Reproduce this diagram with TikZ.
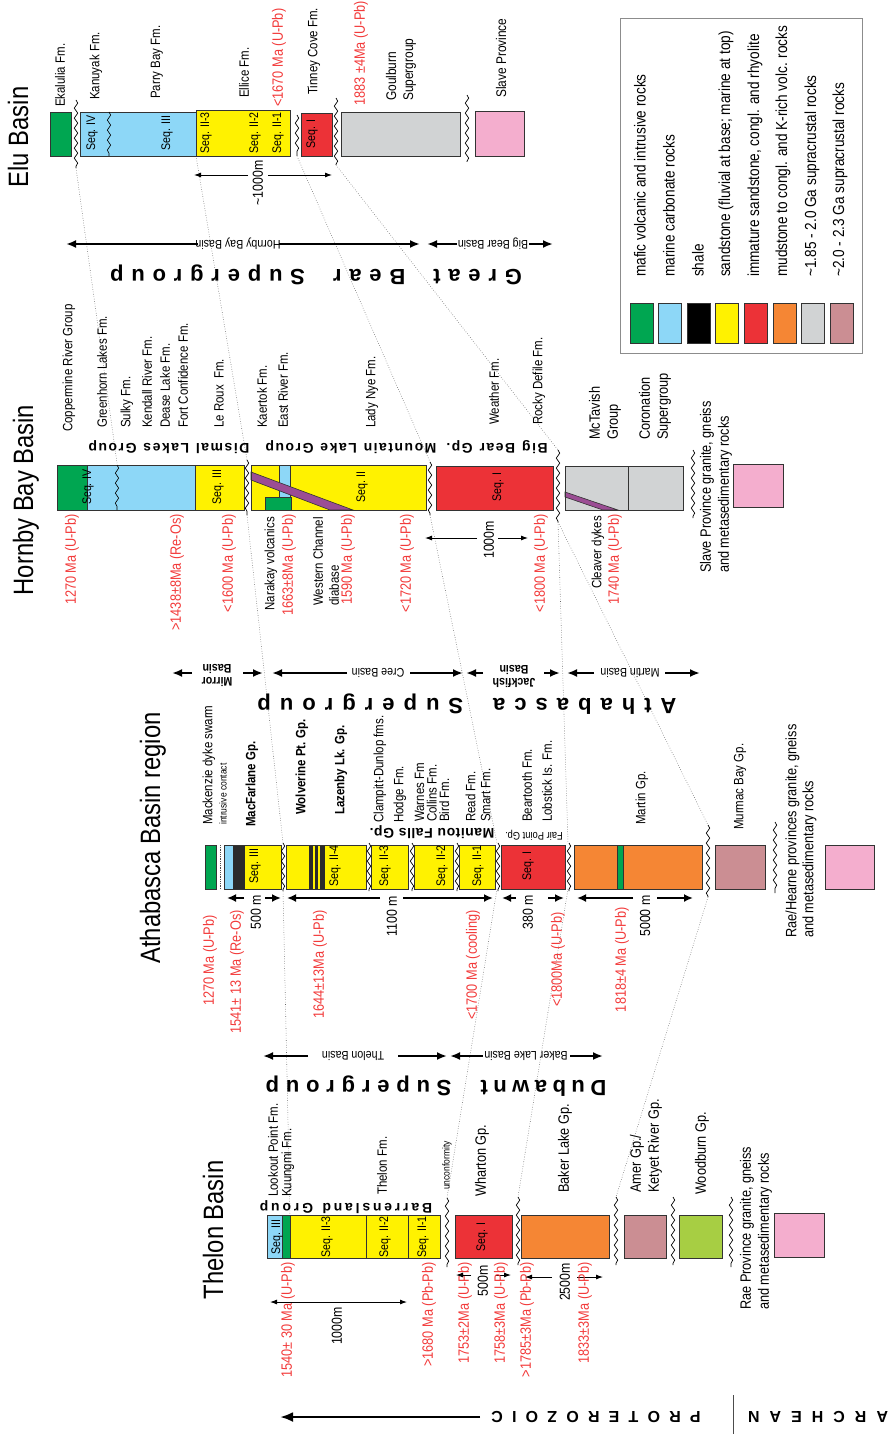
\documentclass[tikz,border=0pt]{standalone}
\usepackage{fontspec}
\setmainfont[FakeStretch=0.85]{Liberation Sans}
\newfontfamily\plainsans{Liberation Sans}
\usetikzlibrary{arrows.meta,decorations.pathmorphing}
\definecolor{cgreen}{HTML}{00A651}
\definecolor{cblue}{HTML}{8DD7F7}
\definecolor{cyel}{HTML}{FFF200}
\definecolor{cred}{HTML}{EC3237}
\definecolor{corange}{HTML}{F58634}
\definecolor{cgray}{HTML}{D1D3D4}
\definecolor{cmauve}{HTML}{CB8E93}
\definecolor{cpink}{HTML}{F4AECE}
\definecolor{clime}{HTML}{A7CE43}
\definecolor{cpurple}{HTML}{9B4D94}
\definecolor{cdark}{HTML}{2B2B2B}
\definecolor{cdate}{HTML}{F23A3A}
\newcommand\fLab{\fontsize{13.5}{16}\selectfont}
\newcommand\fDate{\fontsize{15}{16}\selectfont}
\newcommand\fTitle{\fontsize{28}{30}\selectfont}
\newcommand\fLeg{\fontsize{16}{18}\selectfont}
\newcommand\fSeq{\fontsize{12.5}{14}\selectfont}
\newcommand\fBasin{\fontsize{12.5}{13}\selectfont}
\newcommand\fBasinB{\bfseries\fontsize{12.5}{13}\selectfont}
\newcommand\fScale{\fontsize{14.5}{15}\selectfont}
\newcommand\fGrp{\plainsans\bfseries\fontsize{14}{15}\selectfont}
\newcommand\fSuper{\plainsans\bfseries\fontsize{22}{24}\selectfont}
\newcommand\fEon{\plainsans\bfseries\fontsize{16}{17}\selectfont}
\newcommand\fSmall{\fontsize{10}{11}\selectfont}
\makeatletter
\newcommand\lsp[2]{\@tfor\lsp@c:=#2\do{\lsp@c\hspace{#1}}\unskip}
\makeatother
\newcommand\conn[4]{\coordinate (#1s) at (#3);\coordinate (#1e) at (#4);\draw[#2] (#1s) -- (#1e);}
\begin{document}
\begin{tikzpicture}[x=1pt,y=-1pt,
  box/.style={draw=black!80,line width=0.8pt},
  wavy/.style={decorate,decoration={snake,segment length=10pt,amplitude=1.7pt},line width=0.7pt},
  dotl/.style={black!60,line width=0.55pt,dash pattern=on 0.6pt off 1.8pt},
  up/.style={rotate=90,anchor=west,inner sep=0pt,font=\fLab,align=left},
  upb/.style={up,font=\fLab\bfseries},
  dn/.style={rotate=90,anchor=east,inner sep=0pt,font=\fDate,text=cdate,align=left},
  dnk/.style={rotate=90,anchor=east,inner sep=0pt,font=\fLab,align=left},
  seq/.style={rotate=90,inner sep=0pt,font=\fSeq},
  ttl/.style={rotate=90,inner sep=0pt,font=\fTitle},
  scl/.style={rotate=90,inner sep=0pt,font=\fScale},
  basin/.style={rotate=180,inner sep=0pt,font=\fBasin,align=center},
  basinb/.style={basin,font=\fBasinB},
  grp/.style={rotate=180,inner sep=0pt,font=\fGrp},
  sup/.style={rotate=180,inner sep=0pt,font=\fSuper},
  leg/.style={up,font=\fLeg},
  barr/.style={line width=2.8pt,-{Latex[length=10pt,width=8pt]}},
  aarr/.style={line width=2.8pt,-{Latex[length=9pt,width=8pt]}},
  tarr/.style={line width=0.9pt,-{Latex[length=7pt,width=5pt]}},
]
\useasboundingbox (0,0) rectangle (892,1434);

% ---------------- dotted correlation lines ----------------
\conn{d1}{dotl}{76,168}{117,463}
\conn{d2}{dotl}{196,156}{247,460}
\conn{d3}{dotl}{297,156}{430,462}
\conn{d4}{dotl}{336,165}{558,450}
\conn{d5}{dotl}{247,515}{283,843}
\conn{d6}{dotl}{430,515}{497,843}
\conn{d7}{dotl}{558,522}{568,843}
\conn{d8}{dotl}{558,522}{708,825}
\conn{d9}{dotl}{283,889}{290,1215}
\conn{d10}{dotl}{497,889}{447,1198}
\conn{d11}{dotl}{568,889}{518,1197}
\conn{d12}{dotl}{708,897}{616,1197}

% ---------------- ELU BASIN ----------------
\node[ttl] (tElu) at (18,137) {Elu Basin};
\draw[box,fill=cgreen] (50,112) rectangle (71,156);
\draw[wavy] (76,100) -- (76,168);
\draw[box,fill=cblue] (80,112) rectangle (196,156);
\draw[wavy,line width=0.6pt] (109,112) -- (109,156);
\draw[box,fill=cyel] (196,110) rectangle (290,156);
\draw[wavy] (297,115) -- (297,156);
\draw[box,fill=cred] (301,113) rectangle (332,156);
\draw[wavy] (336,98) -- (336,165);
\draw[box,fill=cgray] (341,112) rectangle (460,156);
\draw[wavy] (467,95) -- (467,162);
\draw[box,fill=cpink] (475,111) rectangle (524,156);

\node[seq] (eS4) at (92,133) {Seq. IV};
\node[seq] (eS3) at (167,133) {Seq. III};
\node[seq] (eS23) at (206,133) {Seq. II-3};
\node[seq] (eS22) at (255,133) {Seq. II-2};
\node[seq] (eS21) at (278,133) {Seq. II-1};
\node[seq] (eS1) at (312,134) {Seq. I};

\node[up] (eEk) at (60,107) {Ekalulia Fm.};
\node[up] (eKa) at (96,100) {Kanuyak Fm.};
\node[up] (ePB) at (157,99) {Parry Bay Fm.};
\node[up] (eEl) at (244,98) {Ellice Fm.};
\node[up,font=\fDate,text=cdate] (eD1) at (279,107) {<1670 Ma (U-Pb)};
\node[up] (eTC) at (314,95) {Tinney Cove Fm.};
\node[up,font=\fDate,text=cdate] (eD2) at (361,106) {1883 ±4Ma (U-Pb)};
\node[up,font=\fontsize{14}{17}\selectfont] (eGo) at (401,101) {Goulburn\\Supergroup};
\node[up,font=\fontsize{14}{17}\selectfont] (eSP) at (501,98) {Slave Province};

\node[scl] (e1000) at (258,183) {\textasciitilde1000m};
\conn{ea1}{tarr}{248,175}{194,175}
\conn{ea2}{tarr}{268,175}{332,175}

\node[basin] (bHB) at (238,244) {Hornby Bay Basin};
\conn{hb1}{barr}{198,244}{66,244}
\conn{hb2}{barr}{279,244}{420,244}
\node[basin] (bBB) at (493,244) {Big Bear Basin};
\conn{bb1}{barr}{457,244}{427,244}
\conn{bb2}{barr}{529,244}{553,244}
\node[sup] (sGB) at (316,275) {\lsp{7.8pt}{Great}\hspace{28pt}\lsp{7.8pt}{Bear}\hspace{28pt}\lsp{7.8pt}{Supergroup}};

% ---------------- LEGEND ----------------
\draw[black!45,line width=0.9pt] (620,18) rectangle (862,353);
\foreach \c [count=\i from 0] in {cgreen,cblue,black,cyel,cred,corange,cgray,cmauve}
  \draw[box,fill=\c] ({630+\i*28.6},303) rectangle ++(23,40);
\node[leg] (lg1) at (640,277) {mafic volcanic and intrusive rocks};
\node[leg] (lg2) at (669,277) {marine carbonate rocks};
\node[leg] (lg3) at (698,277) {shale};
\node[leg] (lg4) at (726,277) {sandstone (fluvial at base; marine at top)};
\node[leg] (lg5) at (755,277) {immature sandstone, congl. and rhyolite};
\node[leg] (lg6) at (783,277) {mudstone to congl. and K-rich volc. rocks};
\node[leg] (lg7) at (812,277) {\textasciitilde1.85 - 2.0 Ga supracrustal rocks};
\node[leg] (lg8) at (840,277) {\textasciitilde2.0 - 2.3 Ga supracrustal rocks};

% ---------------- HORNBY BAY BASIN ----------------
\node[ttl] (tHB) at (26,500) {Hornby Bay Basin};
\draw[box,fill=cgreen] (57,465) rectangle (87,510);
\draw[box,fill=cblue] (87,465) rectangle (195,510);
\draw[wavy,line width=0.6pt] (117,465) -- (117,510);
\draw[box,fill=cyel] (195,465) rectangle (244,510);
\draw[wavy] (247,460) -- (247,515);
\fill[cyel] (251,465) rectangle (426,510);
\draw[box,fill=cblue] (279,465) rectangle (290,497);
\draw[box,fill=cgreen] (265,497) rectangle (291,510);
\draw[box,fill=cpurple,line width=0.6pt] (251,472) -- (353,510) -- (330,510) -- (251,480) -- cycle;
\draw[box] (251,465) rectangle (426,510);
\draw[wavy] (430,462) -- (430,515);
\draw[box,fill=cred] (436,466) rectangle (553,510);
\draw[wavy] (558,450) -- (558,522);
\fill[cgray] (565,466) rectangle (683,510);
\draw[box,fill=cpurple,line width=0.6pt] (565,492) -- (618,510) -- (603,510) -- (565,497) -- cycle;
\draw[box] (565,466) rectangle (683,510);
\draw[box] (628,466) -- (628,510);
\draw[wavy] (693,450) -- (693,518);
\draw[box,fill=cpink] (733,464) rectangle (783,507);

\node[seq] (hS4) at (88,487) {Seq. IV};
\node[seq] (hS3) at (218,487) {Seq. III};
\node[seq] (hS2) at (362,487) {Seq. II};
\node[seq] (hS1) at (498,487) {Seq. I};

\node[up] (hCR) at (69,432) {Coppermine River Group};
\node[up] (hGL) at (102,428) {Greenhorn Lakes Fm.};
\node[up] (hSu) at (127,428) {Sulky Fm.};
\node[up] (hKR) at (147,428) {Kendall River Fm.};
\node[up] (hDL) at (165,428) {Dease Lake Fm.};
\node[up] (hFC) at (183,428) {Fort Confidence Fm.};
\node[up] (hLR) at (219,428) {Le Roux\ \ Fm.};
\node[up] (hKa) at (262,428) {Kaertok Fm.};
\node[up] (hER) at (283,428) {East River Fm.};
\node[up] (hLN) at (372,428) {Lady Nye Fm.};
\node[up] (hWe) at (494,425) {Weather Fm.};
\node[up] (hRD) at (539,425) {Rocky Defile Fm.};
\node[up,font=\fontsize{15}{18}\selectfont] (hMT) at (605,440) {McTavish\\Group};
\node[up,font=\fontsize{15}{18}\selectfont] (hCo) at (655,440) {Coronation\\Supergroup};

\node[grp] (gDL) at (169,447) {\lsp{1.5pt}{Dismal~Lakes~Group}};
\node[grp] (gML) at (351,447) {\lsp{1.5pt}{Mountain~Lake~Group}};
\node[grp] (gBB) at (497,447) {\lsp{1.5pt}{Big~Bear~Gp.}};

\node[dn] (hD1) at (72,514) {1270 Ma (U-Pb)};
\node[dn] (hD2) at (177,514) {>1438±8Ma (Re-Os)};
\node[dn] (hD3) at (229,514) {<1600 Ma (U-Pb)};
\node[dnk] (hNV) at (271,517) {Narakay volcanics};
\node[dn] (hD4) at (289,514) {1663±8Ma (U-Pb)};
\node[dnk] (hWC) at (326,517) {Western Channel\\diabase};
\node[dn] (hD5) at (348,514) {1590 Ma (U-Pb)};
\node[dn] (hD6) at (407,514) {<1720 Ma (U-Pb)};
\node[scl] (h1000) at (489,540) {1000m};
\conn{ha1}{tarr}{477,538}{425,538}
\conn{ha2}{tarr}{498,538}{528,538}
\node[dn] (hD7) at (541,514) {<1800 Ma (U-Pb)};
\node[dnk] (hCD) at (598,516) {Cleaver dykes};
\node[dn] (hD8) at (615,514) {1740 Ma (U-Pb)};
\node[up,font=\fontsize{15}{18}\selectfont] (hSP) at (716,573) {Slave Province granite, gneiss\\and metasedimentary rocks};

% ---------------- ATHABASCA ----------------
\node[basinb] (bMi) at (217,675) {Mirror\\Basin};
\conn{mi1}{barr}{192,673}{172,673}
\conn{mi2}{barr}{243,673}{263,673}
\node[basin] (bCr) at (378,673) {Cree Basin};
\conn{cr1}{barr}{347,673}{272,673}
\conn{cr2}{barr}{410,673}{463,673}
\node[basinb] (bJa) at (514,676) {Jackfish\\Basin};
\conn{ja1}{barr}{483,673}{466,673}
\conn{ja2}{barr}{544,673}{560,673}
\node[basin] (bMa) at (630,673) {Martin Basin};
\conn{ma1}{barr}{594,673}{567,673}
\conn{ma2}{barr}{665,673}{700,673}
\node[sup] (sAt) at (467,704) {\lsp{9pt}{Athabasca}\hspace{30pt}\lsp{9pt}{Supergroup}};

\node[ttl] (tAt) at (153,838) {Athabasca Basin region};

\node[up] (aMD) at (209,825) {Mackenzie dyke swarm};
\node[up,font=\fSmall] (aIC) at (223,825) {intrusive contact};
\node[upb] (aMF) at (252,827) {MacFarlane Gp.};
\node[upb] (aWP) at (302,815) {Wolverine Pt. Gp.};
\node[upb] (aLL) at (341,815) {Lazenby Lk. Gp.};
\node[up] (aCD) at (380,823) {Clampitt-Dunlop fms.};
\node[up] (aHo) at (400,823) {Hodge Fm.};
\node[up,font=\fontsize{13.5}{12.5}\selectfont] (aWa) at (432,822) {Warnes Fm\\Collins Fm.\\Bird Fm.};
\node[up,font=\fontsize{13.5}{15}\selectfont] (aRe) at (478,822) {Read Fm.\\Smart Fm.};
\node[up] (aBe) at (527,822) {Beartooth Fm.};
\node[up] (aLo) at (547,822) {Lobstick Is. Fm.};
\node[up] (aMa) at (642,825) {Martin Gp.};
\node[up] (aMB) at (740,830) {Murmac Bay Gp.};
\node[up,font=\fontsize{15}{17}\selectfont] (aRH) at (801,938) {Rae/Hearne provinces granite, gneiss\\and metasedimentary rocks};

\node[grp] (gMF) at (432,832) {\lsp{0.5pt}{Manitou~Falls~Gp.}};
\node[rotate=180,inner sep=0pt,font=\fontsize{11}{12}\selectfont] (gFP) at (534,835) {Fair Point Gp.};

\draw[box,fill=cgreen] (205,845) rectangle (216,889);
\draw[black!70,line width=0.6pt,dash pattern=on 0.8pt off 1pt] (220,845) -- (220,889);
\fill[cblue] (224,845) rectangle (233,889);
\fill[cdark] (233,845) rectangle (245,889);
\fill[cyel] (245,845) rectangle (281,889);
\draw[box] (224,845) rectangle (281,889);
\draw[wavy] (283,843) -- (283,891);
\fill[cyel] (286,845) rectangle (366,889);
\fill[cdark] (309,845) rectangle (313,889);
\fill[cdark] (314.5,845) rectangle (318,889);
\fill[cdark] (320,845) rectangle (325,889);
\draw[box] (286,845) rectangle (366,889);
\draw[wavy] (369,843) -- (369,891);
\draw[box,fill=cyel] (371,845) rectangle (408,889);
\draw[wavy] (412,843) -- (412,891);
\draw[box,fill=cyel] (414,845) rectangle (453,889);
\draw[wavy] (457,843) -- (457,891);
\draw[box,fill=cyel] (459,845) rectangle (495,889);
\draw[wavy] (498,843) -- (498,891);
\draw[box,fill=cred] (501,845) rectangle (565,889);
\draw[wavy] (569,843) -- (569,891);
\draw[box,fill=corange] (574,845) rectangle (702,889);
\draw[box,fill=cgreen,line width=0.6pt] (617,845) rectangle (623,889);
\draw[wavy] (708,825) -- (708,897);
\draw[box,fill=cmauve] (715,845) rectangle (765,889);
\draw[wavy] (775,822) -- (775,893);
\draw[box,fill=cpink] (825,845) rectangle (874,889);

\node[seq] (aS3) at (255,866) {Seq. III};
\node[seq] (aS24) at (335,866) {Seq. II-4};
\node[seq] (aS23) at (385,866) {Seq. II-3};
\node[seq] (aS22) at (442,866) {Seq. II-2};
\node[seq] (aS21) at (478,866) {Seq. II-1};
\node[seq] (aS1) at (528,866) {Seq. I};

\node[scl] (a500) at (256,912) {500 m};
\conn{aa1}{aarr}{244,898}{227,898}
\conn{aa2}{aarr}{265,898}{281,898}
\node[scl] (a1100) at (392,916) {1100 m};
\conn{aa3}{aarr}{380,898}{287,898}
\conn{aa4}{aarr}{403,898}{493,898}
\node[scl] (a380) at (528,912) {380 m};
\conn{aa5}{aarr}{516,898}{502,898}
\conn{aa6}{aarr}{548,898}{564,898}
\node[scl] (a5000) at (645,916) {5000 m};
\conn{aa7}{aarr}{633,898}{577,898}
\conn{aa8}{aarr}{657,898}{693,898}

\node[dn] (aD1) at (210,915) {1270 Ma (U-Pb)};
\node[dn] (aD2) at (237,910) {1541± 13 Ma (Re-Os)};
\node[dn] (aD3) at (320,910) {1644±13Ma (U-Pb)};
\node[dn] (aD4) at (473,910) {<1700 Ma (cooling)};
\node[dn] (aD5) at (558,912) {<1800Ma (U-Pb)};
\node[dn] (aD6) at (622,907) {1818±4 Ma (U-Pb)};

% ---------------- THELON ----------------
\node[basin] (bTh) at (353,1056) {Thelon Basin};
\conn{th1}{barr}{308,1056}{263,1056}
\conn{th2}{barr}{398,1056}{447,1056}
\node[basin] (bBL) at (526,1056) {Baker Lake Basin};
\conn{bl1}{barr}{483,1056}{450,1056}
\conn{bl2}{barr}{570,1056}{603,1056}
\node[sup] (sDu) at (436,1086) {\lsp{5.5pt}{Dubawnt}\hspace{29pt}\lsp{6.8pt}{Supergroup}};

\node[ttl] (tTh) at (213,1230) {Thelon Basin};

\node[up] (tLP) at (273,1197) {Lookout Point Fm.};
\node[up] (tKu) at (288,1197) {Kuungmi Fm.};
\node[up] (tTF) at (382,1195) {Thelon Fm.};
\node[up,font=\fSmall] (tUn) at (447,1190) {unconformity};
\node[up,font=\fontsize{15}{16}\selectfont] (tWh) at (482,1197) {Wharton Gp.};
\node[up,font=\fontsize{15}{16}\selectfont] (tBL) at (565,1193) {Baker Lake Gp.};
\node[up,font=\fontsize{15}{18}\selectfont] (tAm) at (646,1193) {Amer Gp./\\Ketyet River Gp.};
\node[up,font=\fontsize{15}{16}\selectfont] (tWo) at (702,1195) {Woodburn Gp.};
\node[up,font=\fontsize{15}{18}\selectfont] (tRP) at (756,1310) {Rae Province granite, gneiss\\and metasedimentary rocks};

\node[grp] (gBa) at (346,1207) {\lsp{2.8pt}{Barrensland~Group}};

\fill[cblue] (267,1215) rectangle (282,1258);
\fill[cgreen] (282,1215) rectangle (290,1258);
\fill[cyel] (290,1215) rectangle (440,1258);
\draw[box] (267,1215) rectangle (440,1258);
\draw[box] (282,1215) -- (282,1258);
\draw[box] (290,1215) -- (290,1258);
\draw[box] (366,1215) -- (366,1258);
\draw[box] (408,1215) -- (408,1258);
\draw[wavy] (447,1198) -- (447,1267);
\draw[box,fill=cred] (455,1215) rectangle (512,1258);
\draw[wavy] (518,1197) -- (518,1265);
\draw[box,fill=corange] (521,1215) rectangle (609,1258);
\draw[wavy] (616,1197) -- (616,1265);
\draw[box,fill=cmauve] (624,1215) rectangle (666,1258);
\draw[wavy] (673,1197) -- (673,1265);
\draw[box,fill=clime] (679,1215) rectangle (722,1258);
\draw[wavy] (731,1197) -- (731,1267);
\draw[box,fill=cpink] (774,1213) rectangle (824,1257);

\node[seq] (tS3) at (277,1237) {Seq. III};
\node[seq] (tS23) at (327,1237) {Seq. II-3};
\node[seq] (tS22) at (385,1237) {Seq. II-2};
\node[seq] (tS21) at (423,1237) {Seq. II-1};
\node[seq] (tS1) at (482,1237) {Seq. I};

\node[dn] (tD1) at (288,1262) {1540± 30 Ma (U-Pb)};
\conn{ta0}{line width=0.9pt,{Latex[length=7pt,width=5pt]}-{Latex[length=7pt,width=5pt]}}{270,1302}{407,1302}
\node[scl] (t1000) at (337,1326) {1000m};
\node[dn] (tD2) at (429,1262) {>1680 Ma (Pb-Pb)};
\node[dn] (tD3) at (465,1262) {1753±2Ma (U-Pb)};
\node[scl] (t500) at (483,1281) {500m};
\conn{ta1}{tarr}{471,1275}{456,1275}
\conn{ta2}{tarr}{496,1275}{511,1275}
\node[dn] (tD4) at (501,1262) {1758±3Ma (U-Pb)};
\node[dn] (tD5) at (527,1262) {>1785±3Ma (Pb-Pb)};
\node[scl] (t2500) at (565,1282) {2500m};
\conn{ta3}{tarr}{552,1277}{525,1277}
\conn{ta4}{tarr}{577,1277}{603,1277}
\node[dn] (tD6) at (585,1262) {1833±3Ma (U-Pb)};

% ---------------- EONS ----------------
\node[rotate=180,inner sep=0pt,font=\fEon] (ePr) at (596,1417) {\lsp{9.2pt}{PROTEROZOIC}};
\conn{pa}{line width=2.6pt,-{Latex[length=13pt,width=10pt]}}{480,1417}{280,1417}
\conn{sep}{line width=0.8pt,black!70}{733,1395}{733,1434}
\node[rotate=180,inner sep=0pt,font=\fEon] (eAr) at (818,1417) {\lsp{10pt}{ARCHEAN}};
\end{tikzpicture}
\end{document}
